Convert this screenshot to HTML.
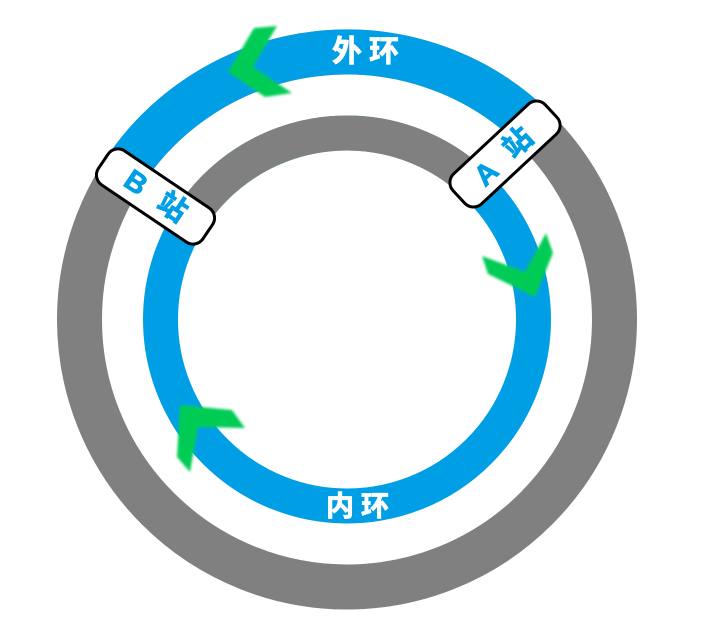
<!DOCTYPE html>
<html>
<head>
<meta charset="utf-8">
<style>
  html,body{margin:0;padding:0;background:#fff;}
  svg{display:block;}
  .lbl{font-family:"Liberation Sans","Noto Sans CJK SC",sans-serif;font-weight:bold;}
</style>
</head>
<body>
<svg width="703" height="630" viewBox="0 0 703 630" xmlns="http://www.w3.org/2000/svg">
  <defs>
    <filter id="blur" x="-20%" y="-20%" width="140%" height="140%">
      <feGaussianBlur stdDeviation="1.3"/>
    </filter>
  </defs>

  <!-- outer ring: gray full, blue arc over top -->
  <circle cx="347" cy="319.5" r="267.5" fill="none" stroke="#808080" stroke-width="45"/>
  <path d="M122.1 174.6 A267.5 267.5 0 0 1 532.1 126.4" fill="none" stroke="#009FE5" stroke-width="45"/>

  <!-- inner ring: blue full, gray arc over top -->
  <circle cx="347" cy="319.5" r="186.5" fill="none" stroke="#009FE5" stroke-width="35"/>
  <path d="M190.2 218.5 A186.5 186.5 0 0 1 476.1 184.9" fill="none" stroke="#808080" stroke-width="35"/>

  <!-- ring labels -->
  <g class="lbl" fill="#fff" stroke="#fff" stroke-width="0.8" text-anchor="middle" dominant-baseline="central">
    <text x="347" y="52" font-size="30">外</text>
    <text x="384" y="52" font-size="30">环</text>
    <text x="340" y="506" font-size="28">内</text>
    <text x="375" y="506" font-size="28">环</text>
  </g>

  <!-- green arrows -->
  <g fill="#00CC55" filter="url(#blur)">
    <polygon points="228,72 254,28 277,26 253,67 292,93 265,97"/>
    <polygon points="482,256 525,272 546,233 553,253 535,297 488,274"/>
    <polygon points="180,405 232,410 245,428 198,427 190,472 177,457"/>
  </g>

  <!-- B station -->
  <g transform="translate(155.5,196.5) rotate(34)">
    <rect x="-63" y="-20.5" width="126" height="41" rx="12" ry="12" fill="#fff" stroke="#000" stroke-width="3"/>
    <g class="lbl" fill="#009FE5" stroke="#009FE5" stroke-width="0.8" text-anchor="middle" dominant-baseline="central">
      <text x="-24" y="0" font-size="29">B</text>
      <text x="20" y="0" font-size="29">站</text>
    </g>
  </g>

  <!-- A station -->
  <g transform="translate(505,154) rotate(-43)">
    <rect x="-63" y="-20.5" width="126" height="41" rx="12" ry="12" fill="#fff" stroke="#000" stroke-width="3"/>
    <g class="lbl" fill="#009FE5" stroke="#009FE5" stroke-width="0.8" text-anchor="middle" dominant-baseline="central">
      <text x="-27" y="2" font-size="29">A</text>
      <text x="17" y="1" font-size="29">站</text>
    </g>
  </g>
</svg>
</body>
</html>
